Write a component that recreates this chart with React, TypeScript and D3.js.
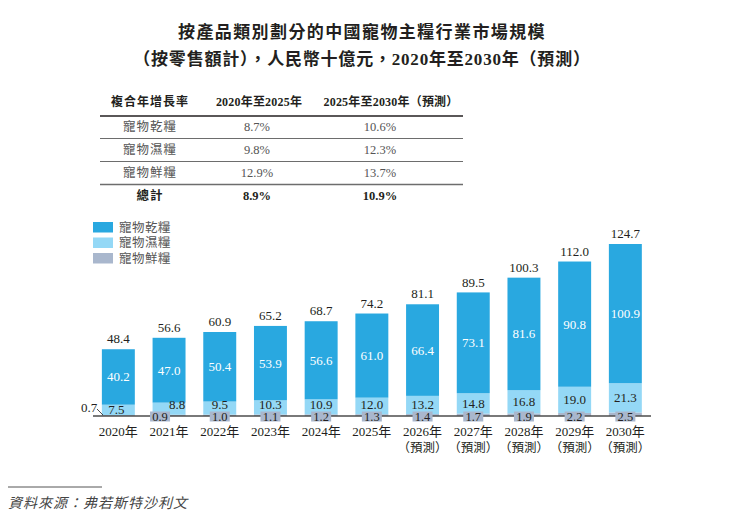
import React, { useEffect, useRef } from 'react';
import * as d3 from 'd3';

// Market size by product type, RMB bn
const years = ['2020', '2021', '2022', '2023', '2024', '2025', '2026', '2027', '2028', '2029', '2030'];
const forecastFrom = 2026;
const seriesNames = ['寵物乾糧', '寵物濕糧', '寵物鮮糧'];
const dryFood = [40.2, 47.0, 50.4, 53.9, 56.6, 61.0, 66.4, 73.1, 81.6, 90.8, 100.9];
const wetFood = [7.5, 8.8, 9.5, 10.3, 10.9, 12.0, 13.2, 14.8, 16.8, 19.0, 21.3];
const freshFood = [0.7, 0.9, 1.0, 1.1, 1.2, 1.3, 1.4, 1.7, 1.9, 2.2, 2.5];
const totals = [48.4, 56.6, 60.9, 65.2, 68.7, 74.2, 81.1, 89.5, 100.3, 112.0, 124.7];

// CAGR table
const cagrHeader = ['複合年增長率', '2020年至2025年', '2025年至2030年（預測）'];
const cagrRows = ['寵物乾糧', '寵物濕糧', '寵物鮮糧', '總計'];
const cagr2025 = ['8.7%', '9.8%', '12.9%', '8.9%'];
const cagr2030 = ['10.6%', '12.3%', '13.7%', '10.9%'];

const COLORS = ['#29a8e0', '#94d8f6', '#a9b7cd'];
const FONT = '"Liberation Serif", "Noto Sans CJK TC", serif';
const DARK = '#231f20';
const GREY = '#555555';

const App: React.FC = () => {
  const svgRef = useRef<SVGSVGElement>(null);

  useEffect(() => {
    if (!svgRef.current) return;
    const svg = d3.select(svgRef.current);
    svg.selectAll('*').remove();
    svg.attr('font-family', FONT);

    // ===== TITLE =====
    const titleLines = [
      '按產品類別劃分的中國寵物主糧行業市場規模',
      '（按零售額計），人民幣十億元，2020年至2030年（預測）',
    ];
    titleLines.forEach((t, i) => {
      svg.append('text')
        .attr('x', 362)
        .attr('y', 38 + i * 27)
        .attr('text-anchor', 'middle')
        .attr('font-size', '17px')
        .attr('font-weight', 'bold')
        .attr('letter-spacing', i === 0 ? '1.4px' : '0.8px')
        .attr('fill', DARK)
        .text(t);
    });

    // ===== CAGR TABLE =====
    const tableG = svg.append('g');
    const tableX0 = 100;
    const tableX1 = 463;
    const colX = [150, 259, 391];
    const valX = [150, 257, 380];
    const rowY = [127, 150, 173, 196];

    cagrHeader.forEach((h, i) => {
      tableG.append('text')
        .attr('x', colX[i])
        .attr('y', 106)
        .attr('text-anchor', 'middle')
        .attr('font-size', '12px')
        .attr('font-weight', 'bold')
        .attr('letter-spacing', i === 0 ? '1px' : '0.2px')
        .attr('fill', DARK)
        .text(h);
    });

    const sepY = [116, 138.5, 161.5, 184.5];
    sepY.forEach((yy, i) => {
      tableG.append('line')
        .attr('x1', tableX0)
        .attr('x2', tableX1)
        .attr('y1', yy)
        .attr('y2', yy)
        .attr('stroke', i === 0 ? DARK : '#6d6d6d')
        .attr('stroke-width', i === 0 || i === 3 ? 1.6 : 1.1);
    });

    cagrRows.forEach((r, i) => {
      const isTotal = i === cagrRows.length - 1;
      const cells = [r, cagr2025[i], cagr2030[i]];
      cells.forEach((c, j) => {
        tableG.append('text')
          .attr('x', valX[j])
          .attr('y', rowY[i] + 4)
          .attr('text-anchor', 'middle')
          .attr('font-size', '12.5px')
          .attr('font-weight', isTotal ? 'bold' : 'normal')
          .attr('letter-spacing', j === 0 ? '1px' : '0px')
          .attr('fill', isTotal ? DARK : GREY)
          .text(c);
      });
    });

    // ===== LEGEND =====
    const legendG = svg.append('g').attr('transform', 'translate(93,222)');
    seriesNames.forEach((name, i) => {
      legendG.append('rect')
        .attr('x', 0)
        .attr('y', i * 15.5)
        .attr('width', 20)
        .attr('height', 10.5)
        .attr('fill', COLORS[i]);
      legendG.append('text')
        .attr('x', 26)
        .attr('y', i * 15.5 + 9.5)
        .attr('font-size', '12.5px')
        .attr('letter-spacing', '0.5px')
        .attr('fill', GREY)
        .text(name);
    });

    // ===== BARS =====
    const x = d3.scaleBand<string>()
      .domain(years)
      .range([93, 650.7])
      .paddingInner(0.35)
      .paddingOuter(0.175);

    const y = d3.scaleLinear()
      .domain([0, 124.7])
      .range([416, 244]);

    const table = years.map((yr, i) => ({
      year: yr,
      fresh: freshFood[i],
      wet: wetFood[i],
      dry: dryFood[i],
    }));

    const stack = d3.stack<any>().keys(['fresh', 'wet', 'dry']);
    const layers = stack(table);
    const colorByKey: Record<string, string> = { dry: COLORS[0], wet: COLORS[1], fresh: COLORS[2] };

    const barsG = svg.append('g');
    layers.forEach((layer) => {
      barsG.selectAll(null)
        .data(layer)
        .enter()
        .append('rect')
        .attr('x', (d: any) => x(d.data.year)!)
        .attr('width', x.bandwidth())
        .attr('y', (d) => y(d[1]))
        .attr('height', (d) => Math.max(0, y(d[0]) - y(d[1])))
        .attr('fill', colorByKey[layer.key]);
    });

    // axis baseline
    svg.append('line')
      .attr('x1', 93)
      .attr('x2', 651)
      .attr('y1', y(0))
      .attr('y2', y(0))
      .attr('stroke', '#4d4d4d')
      .attr('stroke-width', 1.3);

    const labelsG = svg.append('g').attr('font-size', '13px').attr('text-anchor', 'middle');
    const cx = (i: number) => x(years[i])! + x.bandwidth() / 2;

    // dry labels (white, centered in segment)
    dryFood.forEach((v, i) => {
      const base = freshFood[i] + wetFood[i];
      labelsG.append('text')
        .attr('x', cx(i))
        .attr('y', y(base + v / 2) + 4.5)
        .attr('fill', '#ffffff')
        .text(v.toFixed(1));
    });

    // wet labels, kept just above the fresh-food tag
    wetFood.forEach((v, i) => {
      const dx = i === 1 ? 8 : i === 0 ? -2 : 0;
      const mid = y(freshFood[i] + v / 2);
      const cy = i === 0 ? mid : Math.min(mid, y(0) - 12);
      labelsG.append('text')
        .attr('x', cx(i) + dx)
        .attr('y', cy + 4.5)
        .attr('fill', DARK)
        .text(v.toFixed(1));
    });

    // fresh labels: grey box straddling the baseline
    freshFood.forEach((v, i) => {
      if (i === 0) {
        labelsG.append('text')
          .attr('x', 89)
          .attr('y', y(0) - 4)
          .attr('text-anchor', 'middle')
          .attr('fill', DARK)
          .text(v.toFixed(1));
        labelsG.append('line')
          .attr('x1', 97)
          .attr('y1', y(0) - 7)
          .attr('x2', 103)
          .attr('y2', y(v))
          .attr('stroke', DARK)
          .attr('stroke-width', 0.8);
        return;
      }
      const dx = i === 1 ? -9 : 0;
      labelsG.append('rect')
        .attr('x', cx(i) + dx - 10)
        .attr('y', y(0) - 4.5)
        .attr('width', 20)
        .attr('height', 10)
        .attr('fill', COLORS[2]);
      labelsG.append('text')
        .attr('x', cx(i) + dx)
        .attr('y', y(0) + 4.5)
        .attr('font-size', '12.5px')
        .attr('fill', DARK)
        .text(v.toFixed(1));
    });

    // totals
    totals.forEach((v, i) => {
      labelsG.append('text')
        .attr('x', cx(i))
        .attr('y', y(v) - 6)
        .attr('fill', DARK)
        .text(v.toFixed(1));
    });

    // x labels
    const xLabG = svg.append('g').attr('font-size', '13px').attr('text-anchor', 'middle').attr('fill', DARK);
    years.forEach((yr, i) => {
      xLabG.append('text')
        .attr('x', cx(i))
        .attr('y', 436)
        .text(`${yr}年`);
      if (+yr >= forecastFrom) {
        xLabG.append('text')
          .attr('x', cx(i))
          .attr('y', 452)
          .attr('font-size', '12.5px')
          .text('（預測）');
      }
    });

    // ===== SOURCE =====
    svg.append('line')
      .attr('x1', 8)
      .attr('x2', 102)
      .attr('y1', 487)
      .attr('y2', 487)
      .attr('stroke', GREY)
      .attr('stroke-width', 1);
    svg.append('text')
      .attr('x', 8)
      .attr('y', 508)
      .attr('font-size', '14px')
      .attr('font-style', 'italic')
      .attr('letter-spacing', '1px')
      .attr('fill', '#444444')
      .text('資料來源：弗若斯特沙利文');
  }, []);

  return (
    <svg
      ref={svgRef}
      width={743}
      height={528}
      style={{ position: 'absolute', left: 0, top: 0, display: 'block', background: '#ffffff' }}
    />
  );
};

export default App;
